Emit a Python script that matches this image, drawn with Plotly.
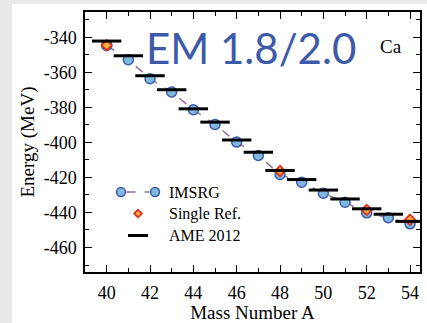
import plotly.graph_objects as go

# ---- data ----
mass_A = [40, 41, 42, 43, 44, 45, 46, 47, 48, 49, 50, 51, 52, 53, 54]
imsrg = [-344.6, -352.8, -363.6, -371.2, -381.3, -389.7, -399.8, -407.4,
         -418.3, -422.7, -429.0, -434.1, -440.2, -443.0, -446.5]
single_ref_A = [40, 48, 52, 54]
single_ref = [-344.5, -416.3, -438.5, -444.2]
ame2012 = [-342.1, -350.5, -361.9, -369.9, -380.8, -388.4, -398.6, -405.6,
           -416.0, -421.2, -427.2, -432.3, -437.9, -441.0, -445.1]

W, H = 427, 323
L, R, T, B = 85, 7, 12, 51
pw, ph = W - L - R, H - T - B

def px(x):
    return (x - L) / pw

def py(y):
    return (H - B - y) / ph

serif = "Liberation Serif"
blue_fill = "#80b8e0"
blue_line = "#3c5ca8"
dia_fill = "#f8b040"
dia_line = "#e3301c"

fig = go.Figure()
fig.add_trace(go.Scatter(
    x=mass_A, y=imsrg, mode="lines+markers", name="IMSRG",
    line=dict(color="#8b6a92", width=1.4, dash="dash"),
    marker=dict(symbol="circle", size=10, color=blue_fill,
                line=dict(color=blue_line, width=1.5)),
    showlegend=False))
fig.add_trace(go.Scatter(
    x=single_ref_A, y=single_ref, mode="markers", name="Single Ref.",
    marker=dict(symbol="diamond", size=8, color=dia_fill,
                line=dict(color=dia_line, width=1.8)),
    showlegend=False))
fig.add_trace(go.Scatter(
    x=mass_A, y=ame2012, mode="markers", name="AME 2012",
    marker=dict(symbol="line-ew", size=21,
                line=dict(color="black", width=3)),
    showlegend=False))

shapes = []
shapes.append(dict(type="rect", xref="paper", yref="paper", layer="below",
                   x0=px(12), x1=px(W + 5), y0=py(H + 5), y1=py(4),
                   fillcolor="white", line=dict(width=0)))
ly1, ly2, ly3 = 192, 213.5, 235.5
shapes.append(dict(type="line", xref="paper", yref="paper",
                   x0=px(126.5), x1=px(149.5), y0=py(ly1), y1=py(ly1),
                   line=dict(color="#8b6a92", width=1.4, dash="dash")))
for cx in (121, 155):
    shapes.append(dict(type="circle", xref="paper", yref="paper",
                       x0=px(cx - 4.5), x1=px(cx + 4.5),
                       y0=py(ly1 + 4.5), y1=py(ly1 - 4.5),
                       fillcolor=blue_fill, line=dict(color=blue_line, width=1.5)))
dx, dy = 138, ly2
r = 3.8
shapes.append(dict(type="path", xref="paper", yref="paper",
                   path=f"M {px(dx-r)} {py(dy)} L {px(dx)} {py(dy-r)} L {px(dx+r)} {py(dy)} L {px(dx)} {py(dy+r)} Z",
                   fillcolor=dia_fill, line=dict(color=dia_line, width=1.8)))
shapes.append(dict(type="line", xref="paper", yref="paper",
                   x0=px(128), x1=px(148), y0=py(ly3), y1=py(ly3),
                   line=dict(color="black", width=3)))

def ann(text, x, y, size, family=serif, color="black", xanchor="left"):
    return dict(text=text, x=px(x), y=py(y), xref="paper", yref="paper",
                xanchor=xanchor, yanchor="middle", showarrow=False,
                font=dict(family=family, size=size, color=color))

annotations = [
    ann("IMSRG", 167, ly1, 16),
    ann("Single Ref.", 167, ly2, 16),
    ann("AME 2012", 167, ly3, 16),
    ann("EM 1.8/2.0", 251, 48, 42, family="Lato", color="#3d5aa8", xanchor="center"),
    ann("Ca", 391, 47, 19, xanchor="center"),
]

axis_common = dict(showline=True, linecolor="black", linewidth=1.5, mirror="ticks",
                   ticks="inside", ticklen=7, tickwidth=1.3, tickcolor="black",
                   showgrid=False, zeroline=False, automargin=False,
                   tickfont=dict(family=serif, size=18, color="black"))

fig.update_layout(
    width=W, height=H,
    margin=dict(l=L, r=R, t=T, b=B),
    paper_bgcolor="#e9e9e7", plot_bgcolor="white",
    xaxis=dict(range=[39.0, 54.46], tickvals=[40, 42, 44, 46, 48, 50, 52, 54],
               ticklabelstandoff=4,
               minor=dict(tickvals=[39, 41, 43, 45, 47, 49, 51, 53], ticklen=4,
                          tickwidth=1.2, tickcolor="black", ticks="inside"),
               title=dict(text="Mass Number A", standoff=9,
                          font=dict(family=serif, size=19, color="black")),
               **axis_common),
    yaxis=dict(range=[-474, -325.5], tickvals=[-460, -440, -420, -400, -380, -360, -340],
               ticktext=["-460", "-440", "-420", "-400", "-380", "-360", "-340"],
               ticklabelstandoff=3,
               minor=dict(tickvals=[-470, -450, -430, -410, -390, -370, -350, -330],
                          ticklen=4, tickwidth=1.2, tickcolor="black", ticks="inside"),
               title=dict(text="Energy (MeV)", standoff=4,
                          font=dict(family=serif, size=19, color="black")),
               **axis_common),
    shapes=shapes, annotations=annotations,
)

fig.write_html("out.html")
